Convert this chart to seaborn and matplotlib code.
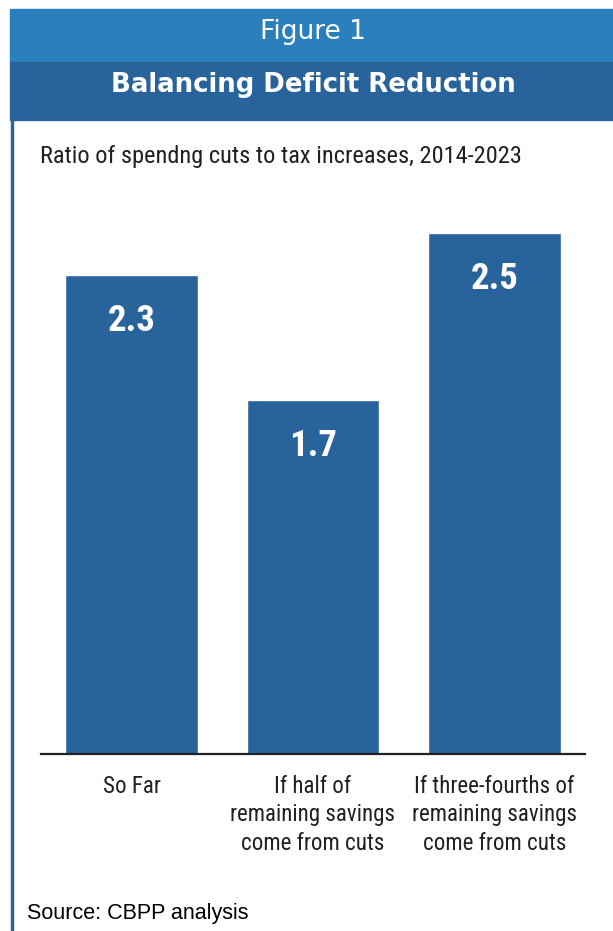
import matplotlib
matplotlib.use("Agg")
import matplotlib.pyplot as plt
import seaborn as sns
from matplotlib.patches import Rectangle
from matplotlib import font_manager as fm

categories = ["So Far",
              "If half of\nremaining savings\ncome from cuts",
              "If three-fourths of\nremaining savings\ncome from cuts"]
ratios = [2.3, 1.7, 2.5]
value_labels = ["2.3", "1.7", "2.5"]

sns.set_theme(style="white")

# pick a condensed face if one is installed
narrow = None
stretch = "normal"
for fam, st in [("Liberation Sans Narrow", "normal"), ("Roboto Condensed", "normal"),
                ("DejaVu Sans", "condensed"), ("Noto Sans", "condensed")]:
    try:
        path = fm.findfont(fm.FontProperties(family=fam, stretch=st), fallback_to_default=False)
    except Exception:
        continue
    if "Narrow" in path or "Cond" in path:
        narrow, stretch = fam, st
        break
if narrow is None:
    narrow = "Liberation Sans"
plt.rcParams["font.family"] = [narrow, "DejaVu Sans"]
plt.rcParams["font.stretch"] = stretch

bar_blue = "#29639c"
light_blue = "#2a7fbd"
text_dark = "#231f20"

W, H = 613, 931
fig = plt.figure(figsize=(W / 100, H / 100), dpi=100)

# header bands and left rule
fig.patches.append(Rectangle((10 / W, 1 - 62 / H), 1 - 10 / W, 53 / H,
                             transform=fig.transFigure, color=light_blue, zorder=0))
fig.patches.append(Rectangle((10 / W, 1 - 120 / H), 1 - 10 / W, 58 / H,
                             transform=fig.transFigure, color=bar_blue, zorder=0))
fig.patches.append(Rectangle((11 / W, 0), 2 / W, 1 - 120 / H,
                             transform=fig.transFigure, color=bar_blue, zorder=0))

fig.text(313 / W, 1 - 29 / H, "Figure 1", color="white", fontsize=19,
         family="DejaVu Sans", stretch="normal", ha="center", va="center_baseline")
fig.text(313 / W, 1 - 82 / H, "Balancing Deficit Reduction", color="white",
         fontsize=18.7, family="DejaVu Sans", stretch="normal", weight="bold",
         ha="center", va="center_baseline")
sub = fig.text(40 / W, 1 - 157 / H, "Ratio of spendng cuts to tax increases, 2014-2023",
               color=text_dark, fontsize=19, ha="left", va="center")
fig.text(27 / W, 1 - 913 / H, "Source: CBPP analysis", color="black",
         fontsize=15.5, family="Liberation Sans", stretch="normal", ha="left", va="center")

ax = fig.add_axes([41 / W, 1 - 754 / H, (585 - 41) / W, (754 - 180) / H])
sns.barplot(x=categories, y=ratios, color=bar_blue, saturation=1, width=0.73, ax=ax)

for i, (v, lab) in enumerate(zip(ratios, value_labels)):
    ax.text(i, v - 0.222, lab, color="white", fontsize=26.5, weight="bold",
            ha="center", va="center")

ax.set_xlim(-0.5, 2.5)
ax.set_ylim(0, 2.755)
ax.set_yticks([])
ax.set_xlabel("")
ax.set_ylabel("")
for s in ["top", "right", "left"]:
    ax.spines[s].set_visible(False)
ax.spines["bottom"].set_color("#222222")
ax.spines["bottom"].set_linewidth(1.6)
ax.tick_params(axis="x", length=0, pad=15, labelsize=17, labelcolor=text_dark)
for t in ax.get_xticklabels():
    t.set_linespacing(1.3)
    t.set_verticalalignment("top")

# shrink subtitle and tick labels to the reference widths if the face is wide
fig.canvas.draw()
w = sub.get_window_extent().width
if w > 482:
    sub.set_fontsize(19 * 482 / w)
widest = max(t.get_window_extent().width for t in ax.get_xticklabels())
if widest > 165:
    for t in ax.get_xticklabels():
        t.set_fontsize(17 * 165 / widest)

fig.savefig("out.png", dpi=100)
